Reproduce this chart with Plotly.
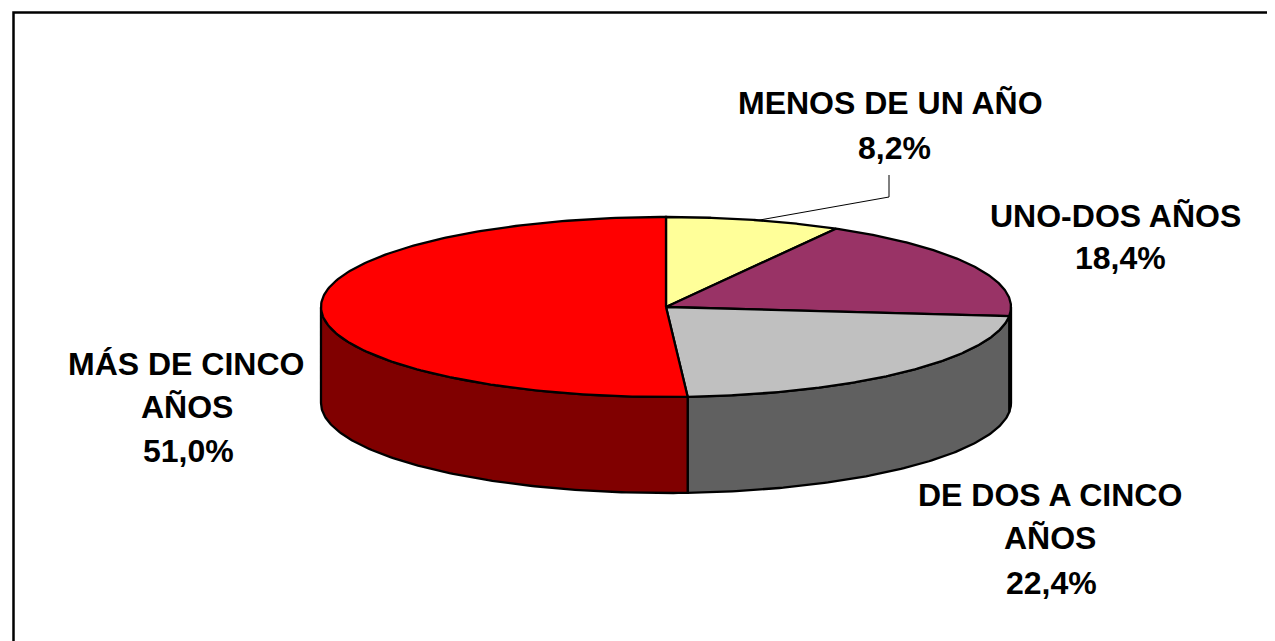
import numpy as np
import plotly.graph_objects as go

categories = ["MENOS DE UN AÑO", "UNO-DOS AÑOS", "DE DOS A CINCO AÑOS", "MÁS DE CINCO AÑOS"]
values = [8.2, 18.4, 22.4, 51.0]
value_labels = ["8,2%", "18,4%", "22,4%", "51,0%"]
top_colors = ["#FFFF99", "#993366", "#C0C0C0", "#FF0000"]
wall_colors = ["#808040", "#4D1A33", "#606060", "#800000"]

W, H = 1275, 641
PAGE_MARGIN = 8
CX, CY, RX, RY, DEPTH = 666, 307, 345, 90, 96
FONT = "Liberation Sans, Arial, sans-serif"
FS = 32
EDGE = 2.3

# label lines: (text, centre x, centre y)
label_lines = [
    [(categories[0], 890, 103), (value_labels[0], 894, 148)],
    [("UNO-DOS AÑOS", 1115, 216), (value_labels[1], 1120, 258)],
    [("DE DOS A CINCO", 1050, 495), ("AÑOS", 1050, 538), (value_labels[2], 1051, 583)],
    [("MÁS DE CINCO", 186, 364), ("AÑOS", 187, 407), (value_labels[3], 188, 451)],
]

def pt(theta, dy=0.0):
    return CX + RX * np.sin(theta), CY - RY * np.cos(theta) + dy

fracs = np.array(values) / sum(values)
edges = np.concatenate([[0], np.cumsum(fracs)]) * 2 * np.pi

fig = go.Figure()

# side walls (only the front half of the rim, theta in [pi/2, 3pi/2])
for a, b, col in zip(edges[:-1], edges[1:], wall_colors):
    lo, hi = max(a, np.pi / 2), min(b, 3 * np.pi / 2)
    if hi <= lo:
        continue
    t = np.linspace(lo, hi, 120)
    x1, y1 = pt(t)
    x2, y2 = pt(t[::-1], DEPTH)
    fig.add_trace(go.Scatter(
        x=np.r_[x1, x2, x1[0]], y=np.r_[y1, y2, y1[0]],
        mode="lines", fill="toself", fillcolor=col,
        line=dict(color="black", width=EDGE), hoverinfo="skip", showlegend=False))

# top faces
for a, b, col in zip(edges[:-1], edges[1:], top_colors):
    t = np.linspace(a, b, 200)
    x, y = pt(t)
    fig.add_trace(go.Scatter(
        x=np.r_[CX, x, CX], y=np.r_[CY, y, CY],
        mode="lines", fill="toself", fillcolor=col,
        line=dict(color="black", width=EDGE), hoverinfo="skip", showlegend=False))

# leader line of the smallest slice
mid = (edges[0] + edges[1]) / 2
lx, ly = pt(mid * 1.05)
fig.add_trace(go.Scatter(
    x=[lx, 889, 889], y=[ly, 197, 175], mode="lines",
    line=dict(color="black", width=1), hoverinfo="skip", showlegend=False))

for group in label_lines:
    for text, x, y in group:
        fig.add_annotation(x=x, y=y, text=f"<b>{text}</b>", showarrow=False,
                           xanchor="center", yanchor="middle",
                           font=dict(family=FONT, size=FS, color="black"))

# frame: only its top and left edges fall inside the picture
fig.add_shape(type="rect", x0=13.5, y0=12.5, x1=W + 40, y1=H + 40,
              line=dict(color="black", width=2.5), fillcolor="rgba(0,0,0,0)")

fig.update_layout(
    width=W - PAGE_MARGIN, height=H - PAGE_MARGIN,
    margin=dict(l=0, r=0, t=0, b=0),
    paper_bgcolor="white", plot_bgcolor="white", showlegend=False,
    xaxis=dict(range=[PAGE_MARGIN, W], visible=False, fixedrange=True),
    yaxis=dict(range=[H, PAGE_MARGIN], visible=False, fixedrange=True),
)
fig.write_html("out.html", config={"displayModeBar": False})
